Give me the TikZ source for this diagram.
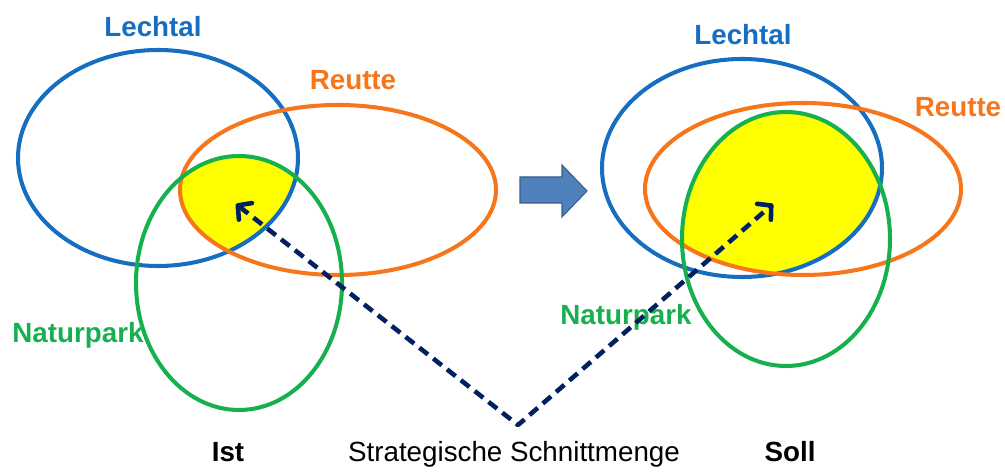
\documentclass[tikz,border=0pt]{standalone}
\usepackage{fontspec}
\setmainfont{Liberation Sans}
\usetikzlibrary{arrows.meta}
\definecolor{VennBlue}{RGB}{22,110,192}
\definecolor{VennOrange}{RGB}{246,118,28}
\definecolor{VennGreen}{RGB}{22,176,78}
\definecolor{VennYellow}{RGB}{255,255,0}
\definecolor{VennNavy}{RGB}{0,32,96}
\definecolor{StepFill}{RGB}{79,129,189}
\definecolor{StepLine}{RGB}{56,93,138}
\tikzset{
  venn/set/.style={line width=2.3pt},
  venn/lechtal/.style={venn/set, draw=VennBlue},
  venn/reutte/.style={venn/set, draw=VennOrange},
  venn/natur/.style={venn/set, draw=VennGreen},
  venn/label/.style={anchor=base, inner sep=0pt, font=\fontsize{15.8}{18}\selectfont\bfseries},
  venn/caption/.style={anchor=base, inner sep=0pt, text=black, font=\fontsize{15.8}{18}\selectfont},
  venn/pointer/.style={{Straight Barb[length=5.5pt,width=12pt,round]}-{Straight Barb[length=5.5pt,width=12pt,round]},
    line width=2.6pt, draw=VennNavy, line join=round, dash pattern=on 6.2pt off 3.8pt},
  venn/step/.style={fill=StepFill, draw=StepLine, line width=0.6pt}
}
\begin{document}
\begin{tikzpicture}[x=0.02cm,y=-0.02cm]
  \useasboundingbox (0,0) rectangle (1005,475);

  \coordinate (lechIst) at (158,158);
  \coordinate (reutIst) at (338,190);
  \coordinate (natIst)  at (239,283);
  \coordinate (lechSoll) at (742,168);
  \coordinate (reutSoll) at (803,189);
  \coordinate (natSoll)  at (786,239);

  \begin{scope}
    \clip (lechIst) ellipse [x radius=140, y radius=108];
    \clip (reutIst) ellipse [x radius=158, y radius=85];
    \fill[VennYellow] (natIst) ellipse [x radius=103, y radius=127];
  \end{scope}
  \begin{scope}
    \clip (lechSoll) ellipse [x radius=140, y radius=109];
    \clip (reutSoll) ellipse [x radius=158, y radius=86];
    \fill[VennYellow] (natSoll) ellipse [x radius=104, y radius=127];
  \end{scope}

  \draw[venn/lechtal] (lechIst) ellipse [x radius=140, y radius=108];
  \draw[venn/reutte]  (reutIst) ellipse [x radius=158, y radius=85];
  \draw[venn/natur]   (natIst)  ellipse [x radius=103, y radius=127];
  \draw[venn/lechtal] (lechSoll) ellipse [x radius=140, y radius=109];
  \draw[venn/reutte]  (reutSoll) ellipse [x radius=158, y radius=86];
  \draw[venn/natur]   (natSoll)  ellipse [x radius=104, y radius=127];

  \node[venn/label, text=VennBlue]   (lechLblIst)  at (153,37)  {Lechtal};
  \node[venn/label, text=VennOrange] (reutLblIst)  at (353,90)  {Reutte};
  \node[venn/label, text=VennGreen]  (natLblIst)   at (78,343)  {Naturpark};
  \node[venn/label, text=VennBlue]   (lechLblSoll) at (743,45)  {Lechtal};
  \node[venn/label, text=VennOrange] (reutLblSoll) at (958,117) {Reutte};
  \node[venn/label, text=VennGreen]  (natLblSoll)  at (626,325) {Naturpark};

  \draw[venn/step] (520,177) -- (562,177) -- (562,165) -- (587,191)
    -- (562,217) -- (562,203) -- (520,203) -- cycle;

  \coordinate (coreIst)  at (236,204);
  \coordinate (coreSoll) at (773,204);
  \coordinate (apex)     at (518,425);
  \draw[venn/pointer] (coreIst) -- (apex) -- (coreSoll);

  \node[venn/caption, font=\fontsize{15.8}{18}\selectfont\bfseries] (ist)  at (228,462) {Ist};
  \node[venn/caption] (schnitt) at (514,462) {Strategische Schnittmenge};
  \node[venn/caption, font=\fontsize{15.8}{18}\selectfont\bfseries] (soll) at (790,462) {Soll};
\end{tikzpicture}
\end{document}
